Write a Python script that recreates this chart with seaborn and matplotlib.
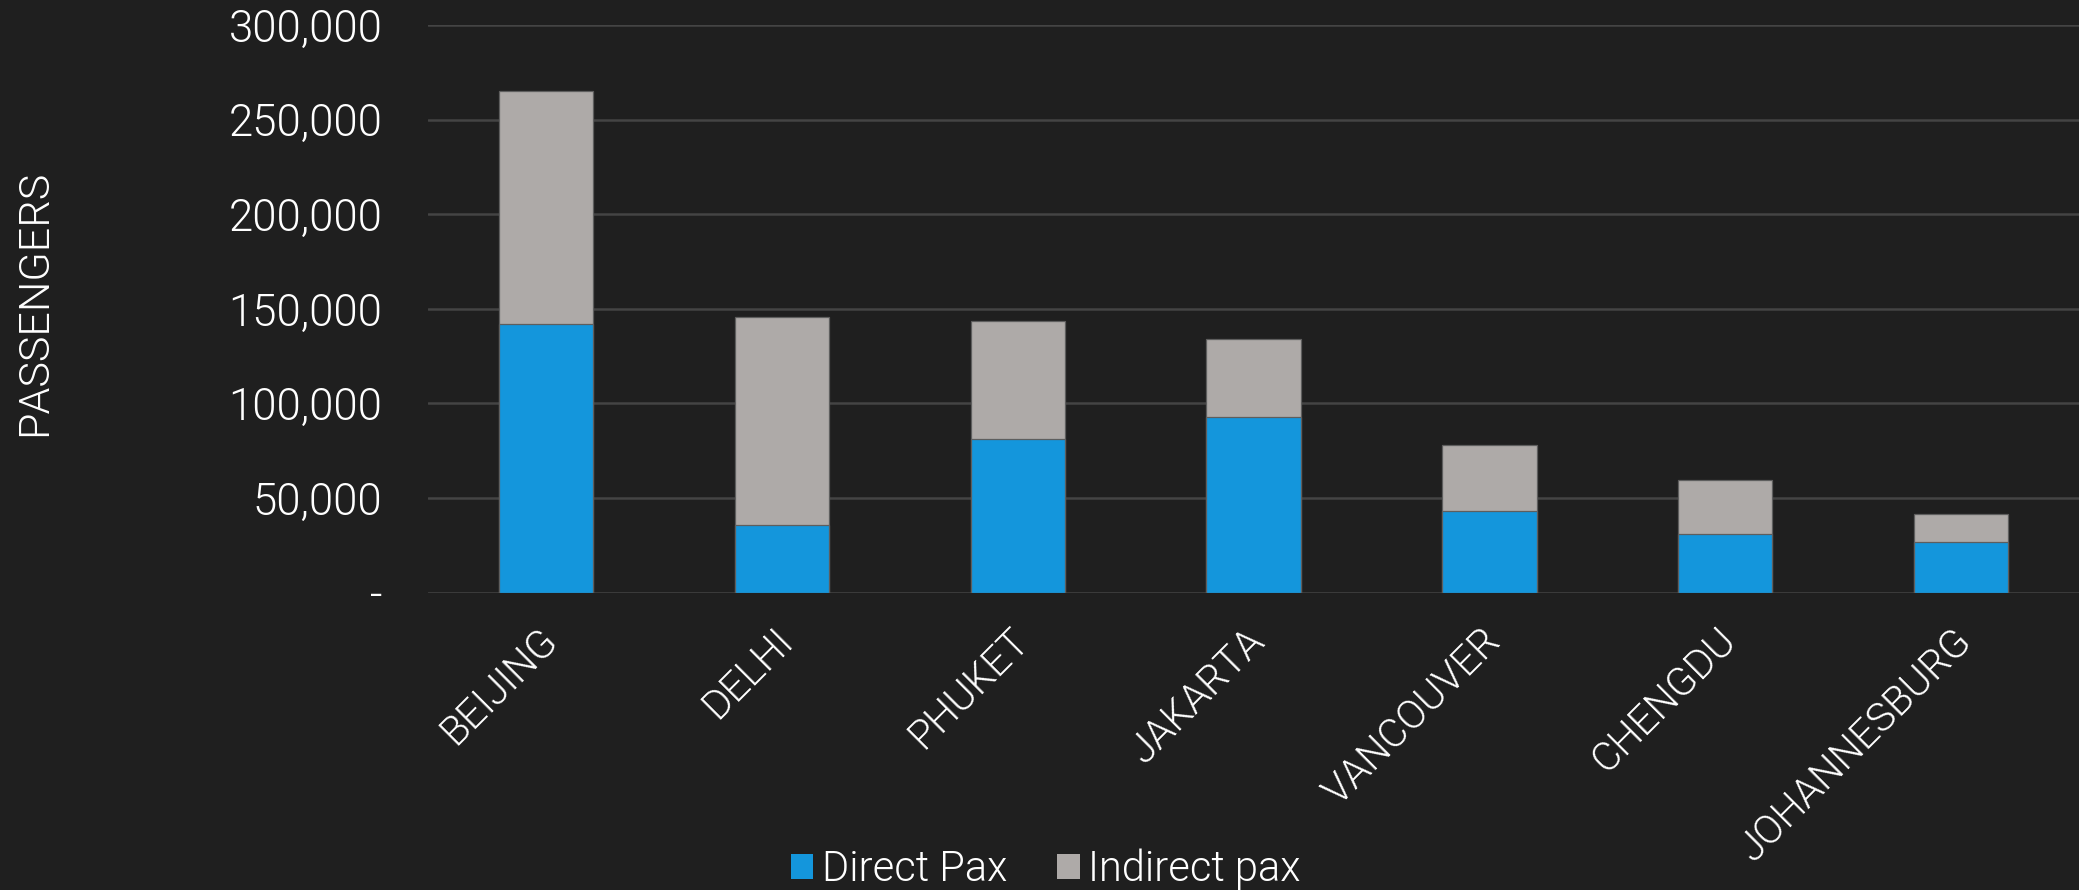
import matplotlib
matplotlib.use("Agg")
import matplotlib.pyplot as plt
import matplotlib.transforms as mtrans
import seaborn as sns
import pandas as pd
from matplotlib.patches import Patch
from matplotlib.ticker import FuncFormatter

cities = ["BEIJING", "DELHI", "PHUKET", "JAKARTA", "VANCOUVER", "CHENGDU", "JOHANNESBURG"]
direct_pax = [142000, 36000, 81000, 93000, 43000, 31000, 27000]
indirect_pax = [123000, 109500, 62500, 41000, 35000, 28500, 14500]
y_ticks = [0, 50000, 100000, 150000, 200000, 250000, 300000]

total_pax = [d + i for d, i in zip(direct_pax, indirect_pax)]
df = pd.DataFrame({"city": cities, "direct": direct_pax, "total": total_pax})

BG = "#1f1f1f"
BLUE = "#1496dc"
GREY = "#aeaaa8"
TXT = "#ffffff"
GRID = "#444444"
W = 300

sns.set_theme(style="dark")
plt.rcParams["font.family"] = ["Roboto", "DejaVu Sans"]

fig = plt.figure(figsize=(20.79, 8.9), dpi=100, facecolor=BG)
ax = fig.add_axes([0.206, 0.334, 0.794, 0.638])
ax.set_facecolor(BG)

sns.barplot(data=df, x="city", y="total", color=GREY, width=0.4, ax=ax,
            saturation=1, edgecolor="#5e5e5e", linewidth=0.9, zorder=3)
sns.barplot(data=df, x="city", y="direct", color=BLUE, width=0.4, ax=ax,
            saturation=1, edgecolor="#5e5e5e", linewidth=0.9, zorder=4)

ax.set_ylim(0, 300000)
ax.set_xlim(-0.5, len(cities) - 0.5)
ax.set_yticks(y_ticks)
ax.yaxis.set_major_formatter(FuncFormatter(lambda v, p: "-" if v == 0 else f"{int(v):,}"))
ax.grid(axis="y", color=GRID, linewidth=1.8, zorder=0)
ax.grid(axis="x", visible=False)
for s in ax.spines.values():
    s.set_visible(False)

ax.tick_params(axis="y", colors=TXT, labelsize=31.5, length=0, pad=33)
ax.tick_params(axis="x", colors=TXT, labelsize=29, length=0, pad=6)
plt.setp(ax.get_xticklabels(), rotation=45, ha="right", rotation_mode="anchor")
offset = mtrans.ScaledTranslation(-9 / 100, -20 / 100, fig.dpi_scale_trans)
for lab in ax.get_xticklabels():
    lab.set_transform(lab.get_transform() + offset)
for lab in ax.get_xticklabels() + ax.get_yticklabels():
    lab.set_color(TXT)
    lab.set_fontweight(W)

ax.set_xlabel("")
ax.set_ylabel("PASSENGERS", color=TXT, fontsize=31, fontweight=W)
ax.yaxis.set_label_coords(-0.226, 0.51)

handles = [Patch(facecolor=BLUE, edgecolor="none", label="Direct Pax"),
           Patch(facecolor=GREY, edgecolor="none", label="Indirect pax")]
leg = fig.legend(handles=handles, loc="lower center", bbox_to_anchor=(0.503, -0.042),
                 ncol=2, frameon=False, fontsize=30, handlelength=0.55, handleheight=0.55,
                 handletextpad=0.2, columnspacing=1.2, labelcolor=TXT)
for t in leg.get_texts():
    t.set_fontweight(W)

fig.savefig("out.png", dpi=100, facecolor=BG)
